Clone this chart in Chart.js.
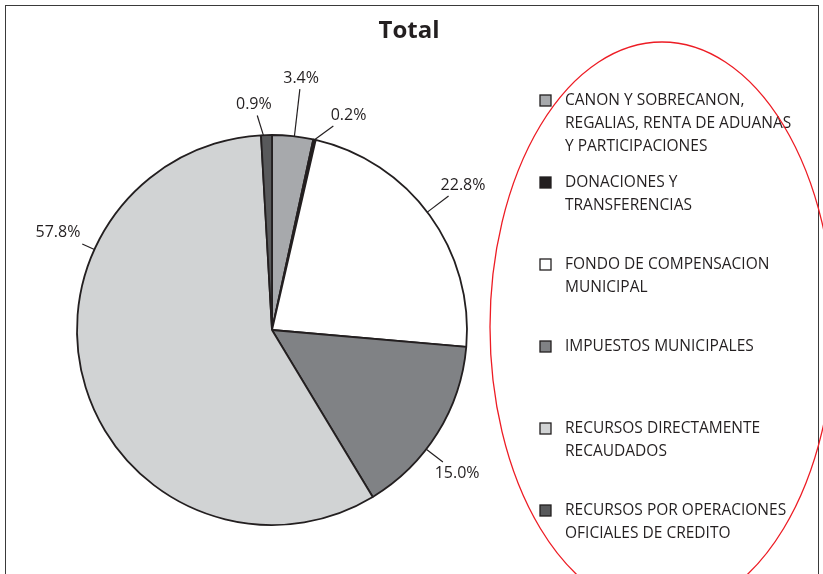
<!DOCTYPE html>
<html lang="es">
<head>
<meta charset="UTF-8">
<title>Total</title>
<style>
    html, body {
        margin: 0;
        padding: 0;
        background: #fff;
        overflow: hidden;
    }
    .wrap {
        position: relative;
        width: 823px;
        height: 574px;
    }
    /* marco del grafico, abierto por abajo */
    .frame {
        position: absolute;
        left: 5px;
        top: 5px;
        width: 812px;
        height: 600px;
        border: 1px solid #3a3a3a;
    }
    canvas {
        position: absolute;
        left: 0;
        top: 0;
    }
</style>
</head>
<body>
<div class="wrap">
    <div class="frame"></div>
    <canvas id="myChart" width="823" height="574"></canvas>
</div>

<script src="https://cdn.jsdelivr.net/npm/chart.js"></script>
<script>

const chartTitle = 'Total';
const categories = [
    ['CANON Y SOBRECANON,', 'REGALIAS, RENTA DE ADUANAS', 'Y PARTICIPACIONES'],
    ['DONACIONES Y', 'TRANSFERENCIAS'],
    ['FONDO DE COMPENSACION', 'MUNICIPAL'],
    ['IMPUESTOS MUNICIPALES'],
    ['RECURSOS DIRECTAMENTE', 'RECAUDADOS'],
    ['RECURSOS POR OPERACIONES', 'OFICIALES DE CREDITO']
];
const shares = [3.4, 0.2, 22.8, 15.0, 57.8, 0.9];
const sliceColors = ['#a7a9ac', '#231f20', '#ffffff', '#808285', '#d1d3d4', '#58595b'];

const INK = '#231f20';
const FONT = '"Open Sans", "DejaVu Sans", sans-serif';

// etiquetas de porcentaje con lineas guia, posicion polar (grados, factor del radio)
const pieLabels = {
    id: 'pieLabels',
    afterDatasetsDraw(chart, args, opts) {
        const ctx = chart.ctx;
        const meta = chart.getDatasetMeta(0);
        ctx.save();
        ctx.font = opts.font;
        ctx.fillStyle = INK;
        ctx.strokeStyle = INK;
        ctx.lineWidth = 1.2;
        ctx.textAlign = 'center';
        ctx.textBaseline = 'middle';
        meta.data.forEach((arc, i) => {
            const place = opts.place[i];
            const r = arc.outerRadius;
            let a = place[0] * Math.PI / 180;
            while (a < -Math.PI / 2) a += Math.PI * 2;
            while (a >= Math.PI * 1.5) a -= Math.PI * 2;
            const cx = arc.x + Math.cos(a) * r * place[1];
            const cy = arc.y + Math.sin(a) * r * place[1];

            // punto de la linea sobre el arco, dentro de la porcion
            const m = Math.min(0.012, (arc.endAngle - arc.startAngle) / 2);
            const b = Math.max(arc.startAngle + m, Math.min(arc.endAngle - m, a));
            const px = arc.x + Math.cos(b) * r;
            const py = arc.y + Math.sin(b) * r;

            const txt = chart.data.datasets[0].data[i].toFixed(1) + '%';
            const hw = ctx.measureText(txt).width / 2 + 4;
            const hh = 11;
            const dx = px - cx, dy = py - cy;
            const s = Math.min(dx ? hw / Math.abs(dx) : 99, dy ? hh / Math.abs(dy) : 99);
            if (s < 1) {
                ctx.beginPath();
                ctx.moveTo(px, py);
                ctx.lineTo(cx + dx * s, cy + dy * s);
                ctx.stroke();
            }
            ctx.fillText(txt, cx, cy);
        });
        ctx.restore();
    }
};

// titulo, leyenda de varias lineas y ovalo rojo
const sideLegend = {
    id: 'sideLegend',
    afterDraw(chart, args, opts) {
        const ctx = chart.ctx;
        const colors = chart.data.datasets[0].backgroundColor;
        ctx.save();
        ctx.fillStyle = INK;
        ctx.textAlign = 'center';
        ctx.textBaseline = 'middle';
        ctx.font = opts.titleFont;
        ctx.fillText(opts.title, opts.titleX, opts.titleY);

        ctx.font = opts.font;
        ctx.textAlign = 'left';
        chart.data.labels.forEach((lines, i) => {
            const y = opts.top + i * opts.step;
            ctx.fillStyle = colors[i];
            ctx.fillRect(opts.boxX, y - 6, 11, 11);
            ctx.strokeStyle = INK;
            ctx.lineWidth = 1.3;
            ctx.strokeRect(opts.boxX, y - 6, 11, 11);
            ctx.fillStyle = INK;
            lines.forEach((ln, j) => ctx.fillText(ln, opts.textX, y + j * opts.lineH));
        });

        ctx.beginPath();
        ctx.ellipse(opts.oval.x, opts.oval.y, opts.oval.rx, opts.oval.ry, 0, 0, Math.PI * 2);
        ctx.strokeStyle = '#ed1c24';
        ctx.lineWidth = 1.3;
        ctx.stroke();
        ctx.restore();
    }
};

const ctx = document.getElementById('myChart').getContext('2d');
new Chart(ctx, {
    type: 'pie',
    data: {
        labels: categories,
        datasets: [{
            data: shares,
            backgroundColor: sliceColors,
            borderColor: INK,
            borderWidth: 1.8
        }]
    },
    options: {
        responsive: false,
        animation: false,
        radius: 195,
        layout: {
            padding: { left: 60, right: 339, top: 106, bottom: 20 }
        },
        plugins: {
            legend: { display: false },
            tooltip: { enabled: false },
            title: { display: false },
            pieLabels: {
                font: '16px ' + FONT,
                place: [[-83.4, 1.30], [-70.4, 1.17], [-37.2, 1.23], [37.7, 1.20], [-155.6, 1.205], [-94.6, 1.16]]
            },
            sideLegend: {
                title: chartTitle,
                titleFont: 'bold 24px ' + FONT,
                titleX: 409,
                titleY: 31,
                font: '15.5px ' + FONT,
                boxX: 540,
                textX: 565,
                top: 101,
                step: 82,
                lineH: 23,
                oval: { x: 662, y: 327, rx: 172, ry: 285 }
            }
        }
    },
    plugins: [pieLabels, sideLegend]
});

</script>
</body>
</html>
